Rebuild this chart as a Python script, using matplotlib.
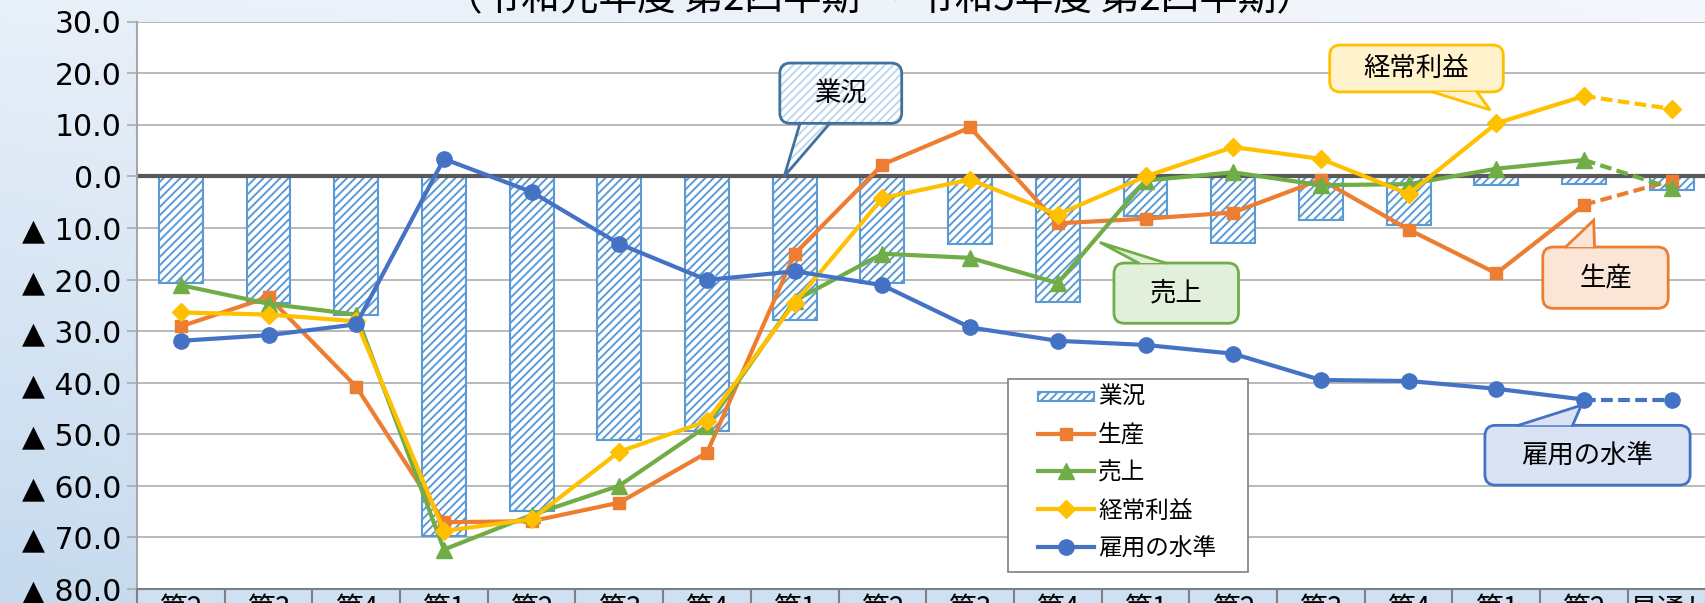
import matplotlib
matplotlib.use("Agg")
import matplotlib.pyplot as plt
import numpy as np
from matplotlib.patches import FancyBboxPatch, Polygon, Rectangle
from matplotlib.lines import Line2D
from matplotlib.legend_handler import HandlerPatch

# 四半期ラベル（最後は見通し）
quarters = ["第2", "第3", "第4", "第1", "第2", "第3", "第4", "第1", "第2",
            "第3", "第4", "第1", "第2", "第3", "第4", "第1", "第2", "見通し"]

# DI値（▲はマイナス）
gyokyo = [-20.7, -24.5, -26.8, -69.7, -65.0, -51.1, -49.4, -27.9, -20.7,
          -13.1, -24.3, -7.6, -12.9, -8.4, -9.5, -1.7, -1.5, -2.7]
seisan = [-29.1, -23.4, -40.8, -67.1, -66.9, -63.3, -53.6, -15.0, 2.3,
          9.5, -9.1, -8.2, -7.0, -0.6, -10.3, -18.8, -5.5, -0.8]
uriage = [-21.1, -24.7, -26.8, -72.4, -65.7, -60.0, -48.4, -24.1, -15.0,
          -15.8, -20.7, -0.8, 0.8, -1.7, -1.5, 1.5, 3.2, -2.3]
keijo = [-26.4, -26.8, -28.1, -68.8, -66.5, -53.4, -47.5, -24.5, -4.2,
         -0.6, -7.4, 0.0, 5.7, 3.4, -3.4, 10.3, 15.6, 13.1]
koyo = [-31.9, -30.8, -28.7, 3.4, -3.0, -13.1, -20.1, -18.4, -21.1,
        -29.3, -31.9, -32.7, -34.4, -39.5, -39.7, -41.2, -43.3, -43.3]

title = "（令和元年度 第2四半期 ～ 令和5年度 第2四半期）"
jp = ["Noto Sans CJK JP", "DejaVu Sans"]

plt.rcParams["hatch.linewidth"] = 1.4

W, H = 1706, 603
fig = plt.figure(figsize=(W / 100, H / 100), dpi=100)

# 背景のグラデーション
bg = fig.add_axes([0, 0, 1, 1], zorder=-10)
gx, gy = np.meshgrid(np.linspace(0, 1, 200), np.linspace(0, 1, 100))
c_tl = np.array([0xE8, 0xF0, 0xF9]) / 255
c_tr = np.array([0xF4, 0xF7, 0xFB]) / 255
c_bl = np.array([0xC6, 0xDA, 0xEE]) / 255
c_br = np.array([0xE2, 0xEB, 0xF5]) / 255
img = (c_tl * ((1 - gx) * (1 - gy))[..., None] + c_tr * (gx * (1 - gy))[..., None]
       + c_bl * ((1 - gx) * gy)[..., None] + c_br * (gx * gy)[..., None])
bg.imshow(img, aspect="auto", extent=[0, 1, 0, 1])
bg.axis("off")

ax = fig.add_axes([0.0803, 0.0237, 0.9253, 0.9401])
ax.set_facecolor("white")
x = np.arange(len(quarters))

bars = ax.bar(x, gyokyo, width=0.5, color="white", edgecolor="#5B9BD5",
              hatch="////", linewidth=1.5, zorder=2)
ax.axhline(0, color="#595959", lw=3, zorder=2.5)

handles = [bars.patches[0]]
labels = ["業況"]
series = [(seisan, "生産", "#ED7D31", "s", 9),
          (uriage, "売上", "#70AD47", "^", 11),
          (keijo, "経常利益", "#FFC000", "D", 9),
          (koyo, "雇用の水準", "#4472C4", "o", 11)]
for vals, name, col, mk, ms in series:
    ln, = ax.plot(x[:-1], vals[:-1], color=col, lw=3, marker=mk, ms=ms, zorder=3)
    ax.plot(x[-2:], vals[-2:], color=col, lw=3, ls=(0, (2.8, 1.3)),
            marker=mk, ms=ms, markevery=[1], zorder=3)
    handles.append(ln)
    labels.append(name)

ax.set_xlim(-0.5, len(quarters) - 0.5)
ax.set_ylim(-80, 30)
yt = np.arange(-80, 31, 10)
ax.set_yticks(yt)
ax.set_yticklabels([f"{v:.1f}" if v >= 0 else f"▲ {-v:.1f}" for v in yt],
                   fontsize=21.5)
ax.yaxis.grid(True, color="#A6A6A6", lw=1.1)
ax.set_axisbelow(True)
ax.tick_params(axis="y", length=7, color="#A6A6A6", width=1.1, pad=4)

ax.set_xticks(x)
ax.set_xticklabels(quarters, fontsize=20, family=jp)
ax.set_xticks(np.arange(-0.5, len(quarters)), minor=True)
ax.tick_params(axis="x", which="major", length=0, pad=4)
ax.tick_params(axis="x", which="minor", length=25, color="#808080", width=1.5)

for s in ["top", "right"]:
    ax.spines[s].set_visible(False)
ax.spines["left"].set_color("#A6A6A6")
ax.spines["left"].set_linewidth(1.5)
ax.spines["bottom"].set_color("#808080")
ax.spines["bottom"].set_linewidth(1.5)

# 項目欄の塗り
ax.add_patch(Rectangle((0, -0.1), 1, 0.1, transform=ax.transAxes,
                       facecolor="#CFE0F1", edgecolor="none", clip_on=False, zorder=0))

# 吹き出し
asp = 17.0


def callout(x0, x1, y0, y1, b0, b1, tip, text, fc, ec, hatch=None, hc=None):
    ybase = y0 if tip[1] < y0 else y1
    tri = [(b0, ybase), tip, (b1, ybase)]
    if hatch:
        ax.add_patch(FancyBboxPatch((x0, y0), x1 - x0, y1 - y0,
                                    boxstyle="round,pad=0,rounding_size=0.12",
                                    mutation_aspect=asp, facecolor=fc,
                                    edgecolor=hc, hatch=hatch, lw=0, zorder=6))
        ax.add_patch(Polygon(tri, closed=True, facecolor=fc, edgecolor=hc,
                             hatch=hatch, lw=0, zorder=6))
    ax.add_patch(FancyBboxPatch((x0, y0), x1 - x0, y1 - y0,
                                boxstyle="round,pad=0,rounding_size=0.12",
                                mutation_aspect=asp,
                                facecolor="none" if hatch else fc,
                                edgecolor=ec, lw=2, zorder=6))
    if not hatch:
        ax.add_patch(Polygon(tri, closed=True, facecolor=fc, edgecolor="none",
                             zorder=6.1))
    ax.add_line(Line2D([b0, tip[0], b1], [ybase, tip[1], ybase], color=ec,
                       lw=2, zorder=6.2, solid_joinstyle="miter"))
    ax.text((x0 + x1) / 2, (y0 + y1) / 2, text, ha="center", va="center",
            fontsize=19, family=jp, zorder=7)


callout(6.83, 8.22, 10.3, 22.0, 7.06, 7.40, (6.88, 0.0), "業況",
        "white", "#41719C", hatch="////", hc="#BDD7EE")
callout(13.10, 15.08, 16.4, 25.5, 14.27, 14.78, (14.93, 12.9), "経常利益",
        "#FFF2CC", "#FFC000")
callout(10.64, 12.06, -28.5, -16.8, 10.92, 11.23, (10.48, -12.8), "売上",
        "#E2EFDA", "#70AD47")
callout(15.53, 16.96, -25.6, -13.7, 15.79, 16.12, (16.11, -8.5), "生産",
        "#FBE5D6", "#ED7D31")
callout(14.87, 17.21, -59.9, -48.3, 15.25, 15.87, (15.97, -44.4), "雇用の水準",
        "#DAE3F3", "#4472C4")


# 凡例の業況は細い帯
def thin_patch(legend, orig_handle, xdescent, ydescent, width, height, fontsize):
    return Rectangle((-xdescent, -ydescent + height * 0.2), width, height * 0.55)


# 凡例（枠は別に描く）
ax.add_patch(Rectangle((1008 / W, 1 - 572 / H), 240 / W, 193 / H,
                       transform=fig.transFigure, facecolor="white",
                       edgecolor="#7F7F7F", lw=1.2, zorder=4.9))
leg = ax.legend(handles, labels,
                loc="upper left", bbox_to_anchor=(1038 / W, 1 - 386 / H),
                bbox_transform=fig.transFigure, borderaxespad=0, borderpad=0,
                prop={"family": jp, "size": 17}, frameon=False,
                handlelength=2.36, labelspacing=0.63, handletextpad=0.18,
                handler_map={Rectangle: HandlerPatch(patch_func=thin_patch)})
leg.set_zorder(5)

fig.text(880 / W, 1 - 9 / H, title, ha="center", va="baseline",
         fontsize=27.8, family=jp)

fig.savefig("out.png", dpi=100)
